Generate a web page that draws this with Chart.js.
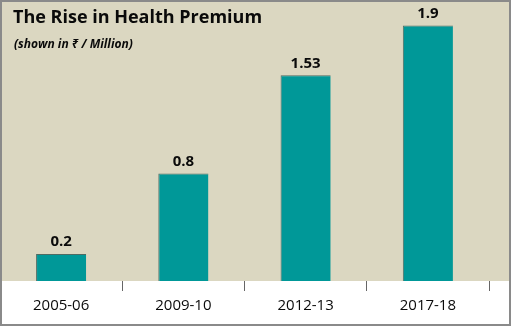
<!DOCTYPE html>
<html><head><meta charset="utf-8">
<script src="https://cdn.jsdelivr.net/npm/chart.js@4"></script>
<style>html,body{margin:0;padding:0;background:#fff;}#wrap{width:511px;height:326px;position:relative;}</style>
</head><body><div id="wrap"><canvas id="c" width="511" height="326"></canvas></div>
<script>
const categories = ["2005-06", "2009-10", "2012-13", "2017-18"];
const premium = [0.2, 0.8, 1.53, 1.9];
const titleText = "The Rise in Health Premium";
const subtitleText = "(shown in \u20B9 / Million)";
const FONT = "'Open Sans', 'Noto Sans', sans-serif";

const bgPlugin = {
  id: 'bg',
  beforeDraw(chart) {
    const {ctx, chartArea, width, height} = chart;
    ctx.save();
    ctx.fillStyle = '#dbd7c1';
    ctx.fillRect(0, 0, width, chartArea.bottom);
    ctx.fillStyle = '#ffffff';
    ctx.fillRect(0, chartArea.bottom, width, height - chartArea.bottom);
    ctx.restore();
  },
  afterDraw(chart) {
    const {ctx, width, height} = chart;
    ctx.save();
    ctx.fillStyle = '#0a0a0a';
    ctx.textBaseline = 'middle';
    ctx.textAlign = 'left';
    ctx.font = "bold 18px " + FONT;
    ctx.fillText(titleText, 13, 18);
    ctx.font = "italic bold 12px " + FONT;
    ctx.fillText(subtitleText, 14, 45);
    const meta = chart.getDatasetMeta(0);
    ctx.font = "bold 15px " + FONT;
    ctx.textAlign = 'center';
    meta.data.forEach((bar, i) => {
      ctx.fillText(String(premium[i]), bar.x, bar.y - 12);
    });
    ctx.strokeStyle = '#8a8a8a';
    ctx.lineWidth = 2;
    ctx.strokeRect(1, 1, width - 2, height - 2);
    ctx.restore();
  }
};

new Chart(document.getElementById('c'), {
  type: 'bar',
  data: {
    labels: categories,
    datasets: [{
      data: premium,
      backgroundColor: '#009898',
      borderColor: '#4f6b63',
      borderWidth: {top: 1, left: 1, right: 0, bottom: 0},
      borderSkipped: false,
      barPercentage: 0.41,
      categoryPercentage: 1
    }]
  },
  options: {
    responsive: false,
    animation: false,
    devicePixelRatio: 1,
    layout: {padding: {left: 0, right: 22, top: 0, bottom: 0}},
    plugins: {legend: {display: false}, tooltip: {enabled: false}, title: {display: false}},
    scales: {
      x: {
        grid: {offset: true, drawOnChartArea: false, tickLength: 10, color: '#666', lineWidth: 1},
        border: {display: false},
        ticks: {color: '#0a0a0a', font: {family: FONT, size: 15}, padding: 6},
        afterFit(scale) { scale.height = 45; }
      },
      y: {display: false, min: 0, max: 2.09}
    }
  },
  plugins: [bgPlugin]
});
</script></body></html>
